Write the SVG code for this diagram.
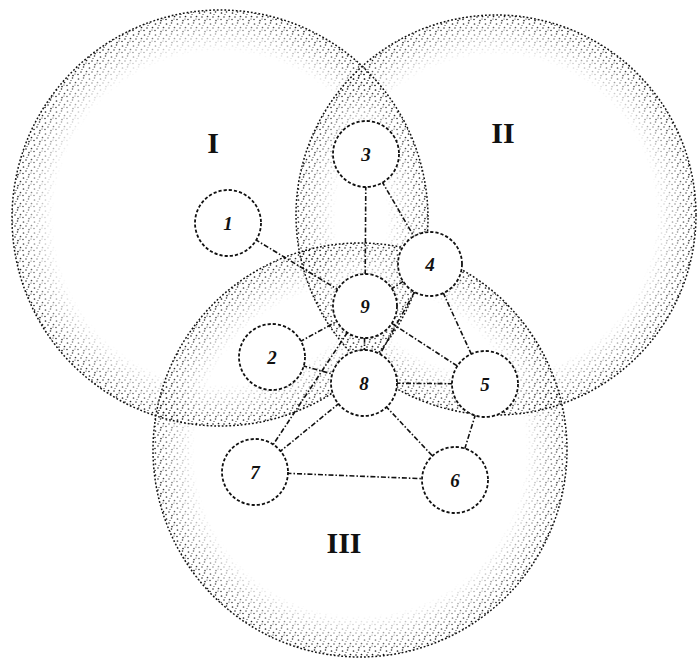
<svg xmlns="http://www.w3.org/2000/svg" width="699" height="660" viewBox="0 0 699 660">
<style>
.region-edge{fill:none;stroke:#111;stroke-width:1.5;stroke-dasharray:1.8 2}
.stip{stroke:none}
.edge{stroke:#111;stroke-width:1.6;stroke-dasharray:5 2 1.5 2;fill:none}
.node circle{fill:#fff;stroke:#111;stroke-width:1.8;stroke-dasharray:3.2 2}
.node text{font-family:"Liberation Serif",serif;font-style:italic;font-weight:bold;font-size:19px;text-anchor:middle;fill:#111}
.rlabel{font-family:"Liberation Serif",serif;font-weight:bold;font-size:30px;text-anchor:middle;fill:#111}
</style>
<defs>
<pattern id="dots" width="11" height="11" patternUnits="userSpaceOnUse">
<circle cx="1.5" cy="2" r="0.85" fill="#111"/>
<circle cx="6.5" cy="1" r="0.8" fill="#111"/>
<circle cx="9.5" cy="5.5" r="0.85" fill="#111"/>
<circle cx="4" cy="6" r="0.8" fill="#111"/>
<circle cx="1" cy="8.5" r="0.8" fill="#111"/>
<circle cx="7" cy="9.5" r="0.85" fill="#111"/>
<circle cx="5" cy="3.5" r="0.6" fill="#111"/>
<circle cx="9" cy="8" r="0.6" fill="#111"/>
</pattern>
<radialGradient id="fade" cx="0.5" cy="0.5" r="0.5">
<stop offset="0.8" stop-color="#000"/>
<stop offset="0.92" stop-color="#888"/>
<stop offset="1" stop-color="#fff"/>
</radialGradient>
<mask id="m1"><circle cx="220" cy="218" r="208" fill="url(#fade)"/></mask>
<mask id="m2"><circle cx="496" cy="215" r="200" fill="url(#fade)"/></mask>
<mask id="m3"><circle cx="360" cy="450" r="207" fill="url(#fade)"/></mask>
</defs>
<rect width="699" height="660" fill="#fff"/>
<g id="regions">
<g id="region-I">
<circle class="stip" cx="220" cy="218" r="208" fill="url(#dots)" mask="url(#m1)"/>
<circle class="region-edge" cx="220" cy="218" r="208"/>
<text class="rlabel" x="213" y="153">I</text>
</g>
<g id="region-II">
<circle class="stip" cx="496" cy="215" r="200" fill="url(#dots)" mask="url(#m2)"/>
<circle class="region-edge" cx="496" cy="215" r="200"/>
<text class="rlabel" x="503" y="143">II</text>
</g>
<g id="region-III">
<circle class="stip" cx="360" cy="450" r="207" fill="url(#dots)" mask="url(#m3)"/>
<circle class="region-edge" cx="360" cy="450" r="207"/>
<text class="rlabel" x="344" y="553">III</text>
</g>
</g>
<g id="connectors">
<line class="edge" x1="228" y1="223" x2="365" y2="306"/>
<line class="edge" x1="366" y1="154" x2="365" y2="306"/>
<line class="edge" x1="366" y1="154" x2="430" y2="264"/>
<line class="edge" x1="430" y1="264" x2="365" y2="306"/>
<line class="edge" x1="430" y1="264" x2="364" y2="383"/>
<line class="edge" x1="430" y1="264" x2="485" y2="384"/>
<line class="edge" x1="365" y1="306" x2="485" y2="384"/>
<line class="edge" x1="365" y1="306" x2="364" y2="383"/>
<line class="edge" x1="272" y1="357" x2="365" y2="306"/>
<line class="edge" x1="272" y1="357" x2="364" y2="383"/>
<line class="edge" x1="364" y1="383" x2="485" y2="384"/>
<line class="edge" x1="364" y1="383" x2="455" y2="480"/>
<line class="edge" x1="364" y1="383" x2="255" y2="472"/>
<line class="edge" x1="365" y1="306" x2="255" y2="472"/>
<line class="edge" x1="485" y1="384" x2="455" y2="480"/>
<line class="edge" x1="255" y1="472" x2="455" y2="480"/>
</g>
<g id="node-1" class="node"><circle cx="228" cy="223" r="33"/><text x="228" y="230">1</text></g>
<g id="node-3" class="node"><circle cx="366" cy="154" r="33"/><text x="366" y="161">3</text></g>
<g id="node-4" class="node"><circle cx="430" cy="264" r="32"/><text x="430" y="271">4</text></g>
<g id="node-9" class="node"><circle cx="365" cy="306" r="32"/><text x="365" y="313">9</text></g>
<g id="node-2" class="node"><circle cx="272" cy="357" r="33"/><text x="272" y="364">2</text></g>
<g id="node-8" class="node"><circle cx="364" cy="383" r="33"/><text x="364" y="390">8</text></g>
<g id="node-5" class="node"><circle cx="485" cy="384" r="33"/><text x="485" y="391">5</text></g>
<g id="node-7" class="node"><circle cx="255" cy="472" r="33"/><text x="255" y="479">7</text></g>
<g id="node-6" class="node"><circle cx="455" cy="480" r="33"/><text x="455" y="487">6</text></g>
</svg>
